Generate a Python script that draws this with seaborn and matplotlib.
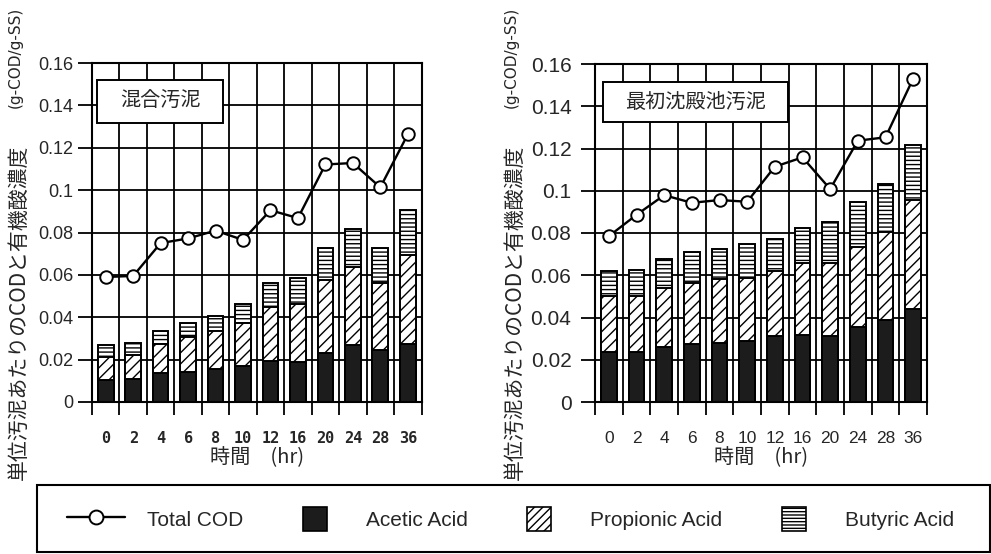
import numpy as np
import pandas as pd
import matplotlib
matplotlib.use("Agg")
import matplotlib.pyplot as plt
from matplotlib import font_manager
from matplotlib.patches import Rectangle, Patch
from matplotlib.lines import Line2D
from matplotlib.legend_handler import HandlerPatch
import seaborn as sns

# ---------------- data ----------------
hours = ['0', '2', '4', '6', '8', '10', '12', '16', '20', '24', '28', '36']
ytick_vals = [0, 0.02, 0.04, 0.06, 0.08, 0.10, 0.12, 0.14, 0.16]
ytick_labels = ['0', '0.02', '0.04', '0.06', '0.08', '0.1', '0.12', '0.14', '0.16']

# 混合汚泥 (mixed sludge)
mix_total_cod = [0.0590, 0.0595, 0.0750, 0.0772, 0.0809, 0.0765, 0.0905, 0.0868, 0.1121, 0.1128, 0.1013, 0.1263]
mix_acetic = [0.0105, 0.0110, 0.0135, 0.0143, 0.0158, 0.0170, 0.0195, 0.0190, 0.0230, 0.0268, 0.0245, 0.0275]
mix_propionic = [0.0109, 0.0110, 0.0139, 0.0166, 0.0179, 0.0202, 0.0255, 0.0273, 0.0346, 0.0367, 0.0315, 0.0419]
mix_butyric = [0.0055, 0.0057, 0.0063, 0.0063, 0.0071, 0.0089, 0.0114, 0.0120, 0.0153, 0.0182, 0.0166, 0.0213]

# 最初沈殿池汚泥 (primary sludge)
pri_total_cod = [0.0785, 0.0886, 0.0979, 0.0943, 0.0956, 0.0948, 0.1114, 0.1158, 0.1008, 0.1237, 0.1253, 0.1531]
pri_acetic = [0.0237, 0.0237, 0.0261, 0.0273, 0.0280, 0.0287, 0.0311, 0.0316, 0.0311, 0.0355, 0.0387, 0.0442]
pri_propionic = [0.0264, 0.0264, 0.0281, 0.0291, 0.0303, 0.0302, 0.0310, 0.0340, 0.0348, 0.0380, 0.0419, 0.0514]
pri_butyric = [0.0118, 0.0123, 0.0137, 0.0145, 0.0142, 0.0158, 0.0152, 0.0170, 0.0193, 0.0210, 0.0226, 0.0259]

panel_titles = ['混合汚泥', '最初沈殿池汚泥']
ylabel_main = '単位汚泥あたりのCODと有機酸濃度'
ylabel_unit = '(g-COD/g-SS)'
xlabel_text = '時間\u3000(hr)'
legend_labels = ['Total COD', 'Acetic Acid', 'Propionic Acid', 'Butyric Acid']

# ---------------- style ----------------
sns.set_style('white')
plt.rcParams['font.family'] = ['Liberation Sans', 'Noto Sans CJK JP', 'DejaVu Sans']
plt.rcParams['hatch.linewidth'] = 1.0
plt.rcParams['hatch.color'] = 'black'

avail = {f.name for f in font_manager.fontManager.ttflist}
narrow = 'Liberation Sans Narrow' if 'Liberation Sans Narrow' in avail else 'Liberation Sans'
narrow_size = 17.5 if narrow == 'Liberation Sans Narrow' else 15
cjk = ['Noto Sans CJK JP', 'DejaVu Sans']

ACETIC_COLOR = '#1c1c1c'

fig = plt.figure(figsize=(9.91, 5.54), dpi=100)
W, H = 991.0, 554.0
axL = fig.add_axes([92 / W, 1 - 402 / H, 329.5 / W, 339 / H])
axR = fig.add_axes([595 / W, 1 - 402 / H, 332 / W, 338 / H])


def make_df(total, ace, pro, but):
    df = pd.DataFrame({'hour': hours, 'total_cod': total,
                       'acetic': ace, 'propionic': pro, 'butyric': but})
    df['cum_prop'] = df['acetic'] + df['propionic']
    df['cum_all'] = df['cum_prop'] + df['butyric']
    df['pos'] = np.arange(len(df))
    return df


def draw_panel(ax, df, title, box):
    layers = [('cum_all', '----', 'white'),
              ('cum_prop', '///', 'white'),
              ('acetic', None, ACETIC_COLOR)]
    for col, hatch, face in layers:
        n0 = len(ax.patches)
        sns.barplot(data=df, x='hour', y=col, order=hours, color=face,
                    width=0.57, errorbar=None, ax=ax, zorder=2)
        for p in ax.patches[n0:]:
            p.set_facecolor(face)
            p.set_edgecolor('black')
            p.set_linewidth(1.4)
            if hatch:
                p.set_hatch(hatch)
    sns.lineplot(data=df, x='pos', y='total_cod', color='black', lw=1.7,
                 marker='o', ms=9, mfc='white', mec='black', mew=1.4,
                 ax=ax, zorder=5, sort=False)
    ax.set_xlabel('')
    ax.set_ylabel('')
    ax.set_xlim(-0.5, len(hours) - 0.5)
    ax.set_ylim(0, 0.16)
    ax.set_axisbelow(True)
    ax.set_yticks(ytick_vals)
    ax.set_yticklabels(ytick_labels)
    ax.set_xticks(np.arange(len(hours)))
    ax.set_xticklabels(hours)
    ax.set_xticks(np.arange(-0.5, len(hours), 1), minor=True)
    ax.grid(False)
    ax.yaxis.grid(True, which='major', color='black', lw=1.3)
    ax.xaxis.grid(True, which='minor', color='black', lw=1.3)
    ax.tick_params(axis='x', which='major', length=0, pad=21)
    ax.tick_params(axis='x', which='minor', length=9, width=1.3,
                   direction='out', color='black', bottom=True)
    ax.tick_params(axis='y', which='major', length=10, width=1.3,
                   direction='out', color='black', left=True)
    for s in ax.spines.values():
        s.set_color('black')
        s.set_linewidth(1.5)
    x0, y0, x1, y1 = box
    ax.add_patch(Rectangle((x0, y0), x1 - x0, y1 - y0, transform=ax.transAxes,
                           facecolor='white', edgecolor='black', lw=1.4, zorder=6))
    ax.text((x0 + x1) / 2, (y0 + y1) / 2, title, transform=ax.transAxes,
            ha='center', va='center', fontsize=14.5, family=cjk, zorder=7)


dfL = make_df(mix_total_cod, mix_acetic, mix_propionic, mix_butyric)
dfR = make_df(pri_total_cod, pri_acetic, pri_propionic, pri_butyric)

draw_panel(axL, dfL, panel_titles[0], (0.015, 0.823, 0.398, 0.950))
draw_panel(axR, dfR, panel_titles[1], (0.023, 0.827, 0.580, 0.947))
axR.tick_params(axis='y', which='major', pad=7)

# tick label fonts (they differ between the two panels in the source)
for t in axL.get_yticklabels():
    t.set_fontsize(13)
    t.set_family('Liberation Sans')
for t in axL.get_xticklabels():
    t.set_fontsize(11)
    t.set_family('DejaVu Sans Mono')
    t.set_fontweight('bold')
for t in axR.get_yticklabels():
    t.set_fontsize(narrow_size)
    t.set_family(narrow)
for t in axR.get_xticklabels():
    t.set_fontsize(12.5)
    t.set_family('Liberation Sans')

# y labels (main + unit), x labels
for xc in (19, 515):
    fig.text(xc / W, 1 - 480 / H, ylabel_main, rotation=90, ha='center',
             va='bottom', fontsize=15, family=cjk)
    fig.text((xc - 4) / W, 1 - 7 / H, ylabel_unit, rotation=90, ha='center',
             va='top', fontsize=11, family='DejaVu Sans')
for xc in (256.7, 761):
    fig.text(xc / W, 1 - 458 / H, xlabel_text, ha='center', va='center',
             fontsize=14.5, family=cjk)


# legend
def square_patch(legend, orig_handle, xdescent, ydescent, width, height, fontsize):
    s = 17.5
    return Rectangle((-xdescent + (width - s) / 2, -ydescent + (height - s) / 2), s, s)


handles = [
    Line2D([], [], color='black', lw=1.7, marker='o', ms=10, mfc='white',
           mec='black', mew=1.4),
    Patch(facecolor=ACETIC_COLOR, edgecolor='black', lw=1.2),
    Patch(facecolor='white', edgecolor='black', hatch='////', lw=1.2),
    Patch(facecolor='white', edgecolor='black', hatch='-----', lw=1.2),
]
sq = HandlerPatch(patch_func=square_patch)
fs = 15
leg = fig.legend(handles, legend_labels, loc='center left',
                 bbox_to_anchor=(67 / W, 1 - 519 / H),
                 ncol=4, frameon=False, borderpad=0, borderaxespad=0,
                 handlelength=41.8 / fs, handletextpad=15.8 / fs,
                 columnspacing=30.6 / fs, handleheight=18 / fs,
                 prop={'family': 'Liberation Sans', 'size': fs},
                 handler_map={Patch: sq})
# legend frame
fig.add_artist(Rectangle((37 / W, 1 - 552 / H), 953 / W, 67 / H,
                         transform=fig.transFigure, facecolor='none',
                         edgecolor='black', lw=1.5))

fig.savefig('out.png', dpi=100)
